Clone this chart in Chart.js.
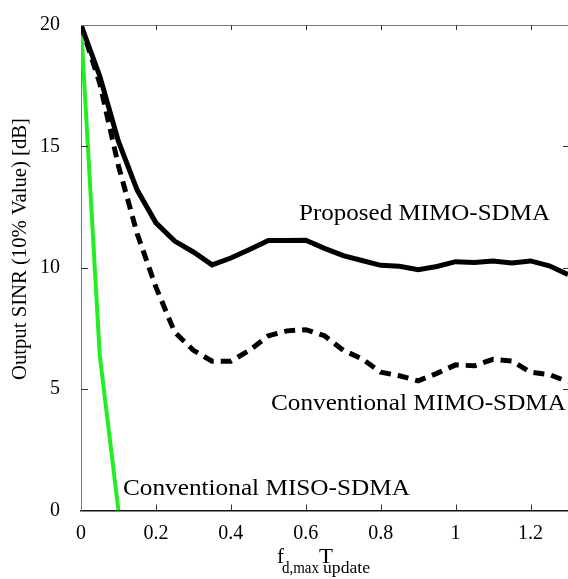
<!DOCTYPE html>
<html lang="en">
<head>
  <meta charset="UTF-8">
  <title>Output SINR vs fd,max Tupdate</title>
  <script src="https://cdn.jsdelivr.net/npm/chart.js"></script>
  <style>
    body { margin: 0; background: #fff; }
    canvas { display: block; }
  </style>
</head>
<body>

  <canvas id="sinrChart" width="568" height="579"></canvas>

  <script>
    // x positions (fd,max * Tupdate)
    const xVals = [0, 0.05, 0.1, 0.15, 0.2, 0.25, 0.3, 0.35, 0.4, 0.45, 0.5, 0.55, 0.6, 0.65,
                   0.7, 0.75, 0.8, 0.85, 0.9, 0.95, 1.0, 1.05, 1.1, 1.15, 1.2, 1.25, 1.3];
    // Proposed MIMO-SDMA (solid)
    const proposedMimo = [20, 17.9, 15.2, 13.2, 11.85, 11.1, 10.65, 10.12, 10.4, 10.75, 11.12, 11.12, 11.13, 10.8,
                          10.5, 10.3, 10.1, 10.06, 9.92, 10.05, 10.25, 10.22, 10.28, 10.2, 10.28, 10.08, 9.72];
    // Conventional MIMO-SDMA (dashed)
    const convMimo = [20, 17.6, 14.2, 11.4, 9.2, 7.35, 6.6, 6.15, 6.15, 6.6, 7.2, 7.4, 7.45, 7.2,
                      6.6, 6.25, 5.7, 5.55, 5.34, 5.65, 6.0, 5.96, 6.23, 6.16, 5.7, 5.6, 5.3];
    // Conventional MISO-SDMA (green)
    const xMiso = [0, 0.05, 0.1];
    const convMiso = [20, 6.4, 0];

    const xTicks = [0, 0.2, 0.4, 0.6, 0.8, 1, 1.2];
    const yTicks = [0, 5, 10, 15, 20];

    const serif = '"Liberation Serif", "Times New Roman", serif';
    Chart.defaults.font.family = serif;
    Chart.defaults.color = '#000';

    function pts(xs, ys) {
      return xs.map((x, i) => ({ x: x, y: ys[i] }));
    }

    // draw text squeezed/stretched to a given width
    function fitText(ctx, text, x, y, size, width) {
      ctx.font = size + 'px ' + serif;
      const w = ctx.measureText(text).width;
      ctx.save();
      ctx.translate(x, y);
      ctx.scale(width / w, 1);
      ctx.fillText(text, 0, 0);
      ctx.restore();
    }

    const decor = {
      id: 'decor',
      afterDraw(chart) {
        const ctx = chart.ctx;
        const a = chart.chartArea;
        const xs = chart.scales.x, ys = chart.scales.y;

        ctx.save();
        // top frame line
        ctx.strokeStyle = '#777';
        ctx.lineWidth = 1;
        ctx.beginPath();
        ctx.moveTo(a.left, a.top + 0.5);
        ctx.lineTo(a.right, a.top + 0.5);
        ctx.stroke();

        // inward tick marks
        ctx.strokeStyle = '#333';
        ctx.beginPath();
        xTicks.forEach(v => {
          if (v === 0) return;
          const px = Math.round(xs.getPixelForValue(v)) + 0.5;
          ctx.moveTo(px, a.bottom); ctx.lineTo(px, a.bottom - 6);
          ctx.moveTo(px, a.top); ctx.lineTo(px, a.top + 5);
        });
        yTicks.forEach(v => {
          if (v === 0 || v === 20) return;
          const py = Math.round(ys.getPixelForValue(v)) + 0.5;
          ctx.moveTo(a.left, py); ctx.lineTo(a.left + 7, py);
          ctx.moveTo(a.right, py); ctx.lineTo(a.right - 5, py);
        });
        ctx.stroke();

        // curve labels
        ctx.fillStyle = '#000';
        ctx.textAlign = 'left';
        ctx.textBaseline = 'alphabetic';
        fitText(ctx, 'Proposed MIMO-SDMA', 299, 220, 23, 251);
        fitText(ctx, 'Conventional MIMO-SDMA', 271, 410, 23, 295);
        fitText(ctx, 'Conventional MISO-SDMA', 123, 495, 23, 287);

        // x axis title with subscripts
        fitText(ctx, 'f', 277, 563, 21, 7);
        fitText(ctx, 'd,max', 282, 573, 16, 37);
        fitText(ctx, 'T', 319, 563, 21, 14);
        fitText(ctx, 'update', 323, 573, 16, 47);

        // y axis title
        ctx.save();
        ctx.translate(21, 249);
        ctx.rotate(-Math.PI / 2);
        ctx.textAlign = 'center';
        ctx.textBaseline = 'middle';
        fitText(ctx, 'Output SINR (10% Value) [dB]', 0, 0, 20, 262);
        ctx.restore();

        ctx.restore();
      }
    };

    const ctx = document.getElementById('sinrChart').getContext('2d');
    const chart = new Chart(ctx, {
      type: 'line',
      data: {
        datasets: [
          {
            label: 'Proposed MIMO-SDMA',
            data: pts(xVals, proposedMimo),
            borderColor: '#000',
            borderWidth: 5,
            pointRadius: 0,
            tension: 0
          },
          {
            label: 'Conventional MIMO-SDMA',
            data: pts(xVals, convMimo),
            borderColor: '#000',
            borderWidth: 5,
            borderDash: [11, 7],
            pointRadius: 0,
            tension: 0
          },
          {
            label: 'Conventional MISO-SDMA',
            data: pts(xMiso, convMiso),
            borderColor: '#22ee22',
            borderWidth: 4,
            pointRadius: 0,
            tension: 0
          }
        ]
      },
      options: {
        responsive: false,
        animation: false,
        layout: { padding: { top: 22, right: 0, left: 0, bottom: 0 } },
        plugins: {
          legend: { display: false },
          tooltip: { enabled: false }
        },
        scales: {
          x: {
            type: 'linear',
            min: 0,
            max: 1.3,
            afterBuildTicks: s => { s.ticks = xTicks.map(v => ({ value: v })); },
            afterFit: s => { s.height = 68.5; },
            grid: { display: false },
            border: { display: true, color: '#111', width: 1.5 },
            ticks: {
              font: { size: 20 },
              padding: 3,
              callback: v => String(v)
            }
          },
          y: {
            min: 0,
            max: 20,
            afterBuildTicks: s => { s.ticks = yTicks.map(v => ({ value: v })); },
            afterFit: s => { s.width = 81; },
            grid: { display: false },
            border: { display: true, color: '#777', width: 1 },
            ticks: {
              font: { size: 20 },
              padding: 13
            }
          }
        }
      },
      plugins: [decor]
    });
  </script>

</body>
</html>
